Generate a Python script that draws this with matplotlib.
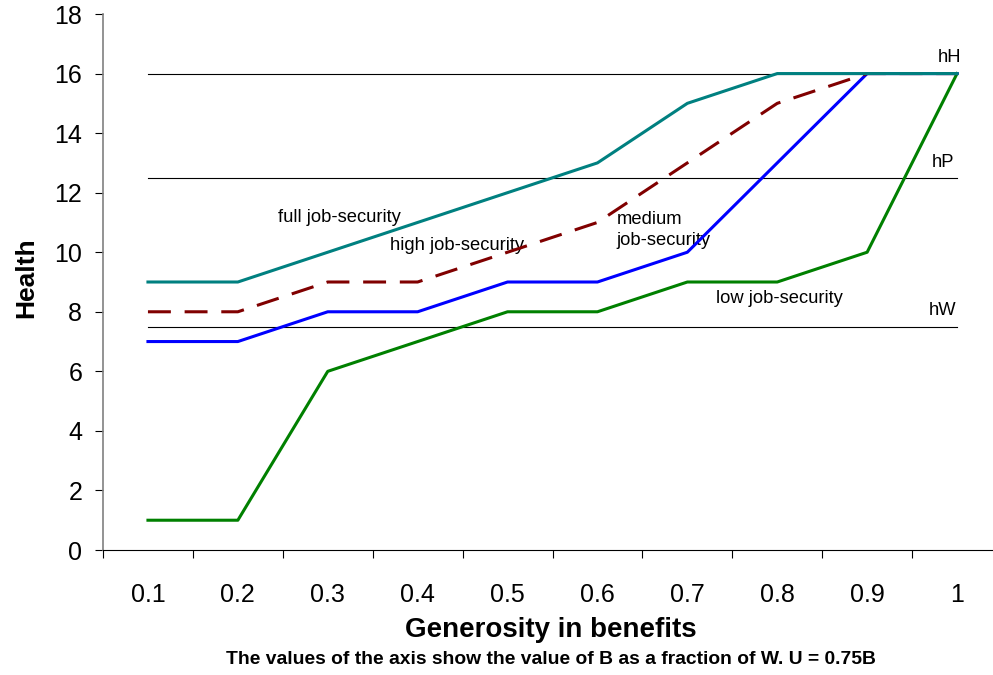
import matplotlib
matplotlib.use("Agg")
import matplotlib.pyplot as plt

categories = ["0.1", "0.2", "0.3", "0.4", "0.5", "0.6", "0.7", "0.8", "0.9", "1"]
full_sec = [9, 9, 10, 11, 12, 13, 15, 16, 16, 16]
high_sec = [8, 8, 9, 9, 10, 11, 13, 15, 16, 16]
medium_sec = [7, 7, 8, 8, 9, 9, 10, 13, 16, 16]
low_sec = [1, 1, 6, 7, 8, 8, 9, 9, 10, 16]
thresholds = {"hH": 16, "hP": 12.5, "hW": 7.5}
yticks = list(range(0, 19, 2))

plt.rcParams['font.family'] = ['Liberation Sans', 'DejaVu Sans']

fig = plt.figure(figsize=(9.93, 6.75), dpi=100)
ax = fig.add_axes([103/993, 125/675, 899/993, 536/675])

x = list(range(len(categories)))

for name, val in thresholds.items():
    ax.plot([x[0], x[-1]], [val, val], color='black', lw=0.8, zorder=2)

ax.plot(x, low_sec, color='#008000', lw=2.2, zorder=3)
ax.plot(x, medium_sec, color='#0000FF', lw=2.2, zorder=4)
ax.plot(x, high_sec, color='#800000', lw=2.2, dashes=(7.5, 4.5), zorder=5)
ax.plot(x, full_sec, color='#008080', lw=2.2, zorder=6)

tfs = 13.2
ax.text(1.45, 11.15, "full job-security", fontsize=tfs, va='center', ha='left')
ax.text(2.69, 10.21, "high job-security", fontsize=tfs, va='center', ha='left')
ax.text(5.21, 10.75, "medium\njob-security", fontsize=tfs, va='center', ha='left', linespacing=1.25)
ax.text(6.32, 8.43, "low job-security", fontsize=tfs, va='center', ha='left')
ax.text(8.79, 16.55, "hH", fontsize=tfs, va='center', ha='left')
ax.text(8.72, 13.0, "hP", fontsize=tfs, va='center', ha='left')
ax.text(8.68, 8.03, "hW", fontsize=tfs, va='center', ha='left')

ax.set_xlim(-0.5, 9.5)
ax.set_ylim(0, 18)
ax.set_yticks(yticks)
ax.set_yticklabels([str(t) for t in yticks], fontsize=18)
ax.set_xticks(x)
ax.set_xticklabels(categories, fontsize=18)
ax.set_xticks([i + 0.5 for i in range(-1, len(categories))], minor=True)
ax.tick_params(axis='x', which='major', length=0, pad=24)
ax.tick_params(axis='x', which='minor', length=6, direction='out', width=0.8)
ax.tick_params(axis='y', which='major', length=6, direction='out', width=0.8, pad=9)

ax.spines['top'].set_visible(False)
ax.spines['right'].set_visible(False)
ax.spines['left'].set_color('#808080')
ax.spines['left'].set_linewidth(1.2)
ax.spines['bottom'].set_color('black')
ax.spines['bottom'].set_linewidth(0.8)

fig.text(26 / 993, 1 - 278 / 675, "Health", fontsize=19, fontweight='bold',
         rotation=90, ha='center', va='center')
cx = 551 / 993
fig.text(cx, 1 - 630 / 675, "Generosity in benefits",
         fontsize=20, fontweight='bold', ha='center', va='center')
fig.text(cx, 1 - 660 / 675,
         "The values of the axis show the value of B as a fraction of W. U = 0.75B",
         fontsize=13.9, fontweight='bold', ha='center', va='center')

fig.savefig("out.png", dpi=100)
